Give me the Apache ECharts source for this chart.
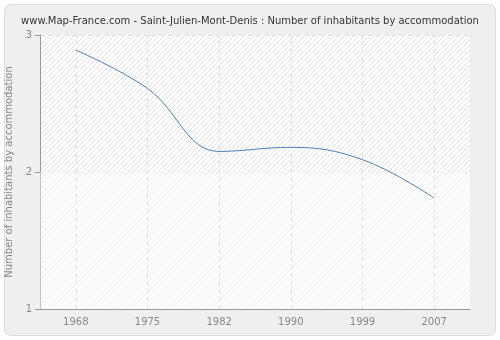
<!DOCTYPE html>
<html>
<head>
<meta charset="utf-8">
<script src="https://cdn.jsdelivr.net/npm/echarts@6/dist/echarts.min.js"></script>
<style>
  html, body { margin: 0; padding: 0; background: #fff; }
  #chart { width: 500px; height: 340px; }
</style>
</head>
<body>
<div id="chart"></div>
<script>
// data
const years = ['1968', '1975', '1982', '1990', '1999', '2007']
const inhabitantsPerHome = [2.89, 2.61, 2.15, 2.18, 2.09, 1.81]
const yTicks = [1, 2, 3]

// light diagonal hatching for the plot area
function hatch() {
  const c = document.createElement('canvas')
  c.width = 5
  c.height = 5
  const ctx = c.getContext('2d')
  ctx.fillStyle = '#ffffff'
  ctx.fillRect(0, 0, 5, 5)
  ctx.strokeStyle = '#e4e4e4'
  ctx.lineWidth = 1
  ctx.beginPath()
  ctx.moveTo(0, 5)
  ctx.lineTo(5, 0)
  ctx.moveTo(-2.5, 2.5)
  ctx.lineTo(2.5, -2.5)
  ctx.moveTo(2.5, 7.5)
  ctx.lineTo(7.5, 2.5)
  ctx.stroke()
  return { image: c, repeat: 'repeat' }
}

const chart = echarts.init(document.getElementById('chart'))
const font = 'DejaVu Sans'
const gridLine = { color: '#e2e2e2', type: [4, 4], width: 1 }

chart.setOption({
  animation: false,
  backgroundColor: '#ffffff',
  graphic: [
    {
      type: 'rect',
      z: -10,
      shape: { x: 4.5, y: 4.5, width: 491, height: 331, r: 6 },
      style: { fill: '#efefef', stroke: '#dddddd', lineWidth: 1 }
    }
  ],
  title: {
    text: 'www.Map-France.com - Saint-Julien-Mont-Denis : Number of inhabitants by accommodation',
    left: 'center',
    top: 11,
    textStyle: { fontFamily: font, fontSize: 10, fontWeight: 'normal', color: '#333' }
  },
  grid: {
    left: 40,
    right: 30,
    top: 35,
    bottom: 31,
    containLabel: false,
    outerBoundsMode: 'none',
    show: true,
    backgroundColor: hatch(),
    borderWidth: 0
  },
  xAxis: {
    type: 'category',
    data: years,
    boundaryGap: true,
    axisLine: { lineStyle: { color: '#999' } },
    axisTick: { alignWithLabel: true, length: 5, lineStyle: { color: '#999' } },
    axisLabel: { fontFamily: font, fontSize: 10, color: '#888', margin: 8 },
    splitLine: { show: false }
  },
  yAxis: {
    type: 'value',
    min: yTicks[0],
    max: yTicks[yTicks.length - 1],
    interval: 1,
    name: 'Number of inhabitants by accommodation',
    nameLocation: 'middle',
    nameGap: 26,
    nameTextStyle: { fontFamily: font, fontSize: 10, color: '#888' },
    axisLine: { show: true, lineStyle: { color: '#999' } },
    axisTick: { show: true, length: 5, lineStyle: { color: '#999' } },
    axisLabel: { fontFamily: font, fontSize: 10, color: '#888', margin: 8 },
    splitLine: { show: true, lineStyle: gridLine }
  },
  series: [
    {
      type: 'line',
      data: inhabitantsPerHome,
      smooth: 0.4,
      symbol: 'none',
      z: 5,
      lineStyle: { color: '#4f7fb5', width: 1 },
      // vertical dashed lines sit on the categories, not between them
      markLine: {
        silent: true,
        symbol: 'none',
        label: { show: false },
        lineStyle: gridLine,
        data: years.map(y => ({ xAxis: y }))
      },
      // lower half of the plot is paler
      markArea: {
        silent: true,
        itemStyle: { color: 'rgba(255,255,255,0.4)' },
        data: [[{ yAxis: yTicks[0] }, { yAxis: yTicks[1] }]]
      }
    }
  ]
})
</script>
</body>
</html>
